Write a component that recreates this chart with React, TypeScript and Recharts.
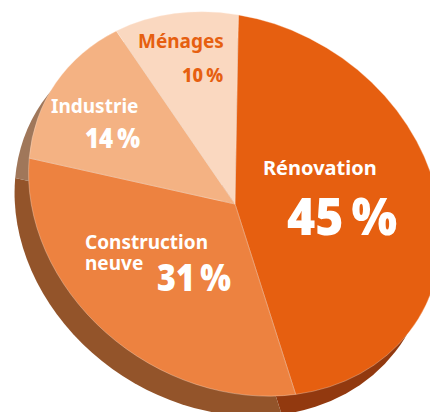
import React from 'react';
import { PieChart, Pie, Cell, Sector } from 'recharts';

const categories = ['Rénovation', 'Construction neuve', 'Industrie', 'Ménages'];
const shares = [45, 31, 14, 10];
const topColors = ['#E65F10', '#ED8240', '#F4B283', '#FAD8C0'];
const sideColors = ['#92390F', '#93542A', '#A0775A', '#C0A590'];

const tableRows = categories.map((name, i) => ({ name, value: shares[i] }));

const CX = 235;
const CY = 204;
const R = 181;
const TILT = 33;
const STRETCH = 1.195;
const START = 117.6;
const DEPTH_X = -14;
const DEPTH_Y = 20;

const tilted = (dx: number, dy: number, seam: boolean) => (props: any) => (
  <g transform={`translate(${CX + dx} ${CY + dy}) rotate(${TILT}) scale(${STRETCH} 1) translate(${-CX} ${-CY})`}>
    <Sector {...props} stroke={seam ? 'rgba(255,235,220,0.55)' : 'none'} strokeWidth={seam ? 0.5 : 0} />
  </g>
);

const FONT = '"Noto Sans", "Open Sans", sans-serif';
const pct = (v: number) => `${v}\u202F%`;

const SliceLabel = (props: any) => {
  const i = props.index as number;
  const v = shares[i];
  const common = { fontFamily: FONT, fontWeight: 700 };
  if (i === 0) {
    return (
      <g {...common}>
        <text x={263} y={175} fontSize={20} fill="#fff">{categories[0]}</text>
        <text x={287} y={235} fontSize={52} fontWeight={900} fill="#fff" textLength={110} lengthAdjust="spacingAndGlyphs">{pct(v)}</text>
      </g>
    );
  }
  if (i === 1) {
    const [a, b] = categories[1].split(' ');
    return (
      <g {...common}>
        <text x={85} y={249} fontSize={19} fill="#fff">
          <tspan x={85}>{a}</tspan>
          <tspan x={85} dy={21}>{b}</tspan>
        </text>
        <text x={157} y={291} fontSize={37} fontWeight={900} fill="#fff" textLength={74} lengthAdjust="spacingAndGlyphs">{pct(v)}</text>
      </g>
    );
  }
  if (i === 2) {
    return (
      <g {...common}>
        <text x={51} y={113} fontSize={19} fill="#fff">{categories[2]}</text>
        <text x={85} y={148} fontSize={28} fontWeight={900} fill="#fff" textLength={55} lengthAdjust="spacingAndGlyphs">{pct(v)}</text>
      </g>
    );
  }
  return (
    <g {...common}>
      <text x={138} y={48} fontSize={19} fill="#E65F10">{categories[3]}</text>
      <text x={182} y={82} fontSize={19} fontWeight={800} fill="#E65F10" textLength={41} lengthAdjust="spacingAndGlyphs">{pct(v)}</text>
    </g>
  );
};

export default function App() {
  return (
    <div style={{ position: 'absolute', left: 0, top: 0, width: 430, height: 412, overflow: 'hidden', background: '#fff' }}>
      <PieChart width={430} height={412} margin={{ top: 0, right: 0, bottom: 0, left: 0 }}>
        <Pie
          data={tableRows}
          dataKey="value"
          nameKey="name"
          cx={CX}
          cy={CY}
          innerRadius={0}
          outerRadius={R}
          startAngle={START}
          endAngle={START - 360}
          paddingAngle={0}
          stroke="none"
          isAnimationActive={false}
          shape={tilted(DEPTH_X, DEPTH_Y, false)}
        >
          {sideColors.map((c) => <Cell key={c} fill={c} />)}
        </Pie>
        <Pie
          data={tableRows}
          dataKey="value"
          nameKey="name"
          cx={CX}
          cy={CY}
          innerRadius={0}
          outerRadius={R}
          startAngle={START}
          endAngle={START - 360}
          paddingAngle={0}
          isAnimationActive={false}
          shape={tilted(0, 0, true)}
          label={SliceLabel}
          labelLine={false}
        >
          {topColors.map((c) => <Cell key={c} fill={c} />)}
        </Pie>
      </PieChart>
    </div>
  );
}
